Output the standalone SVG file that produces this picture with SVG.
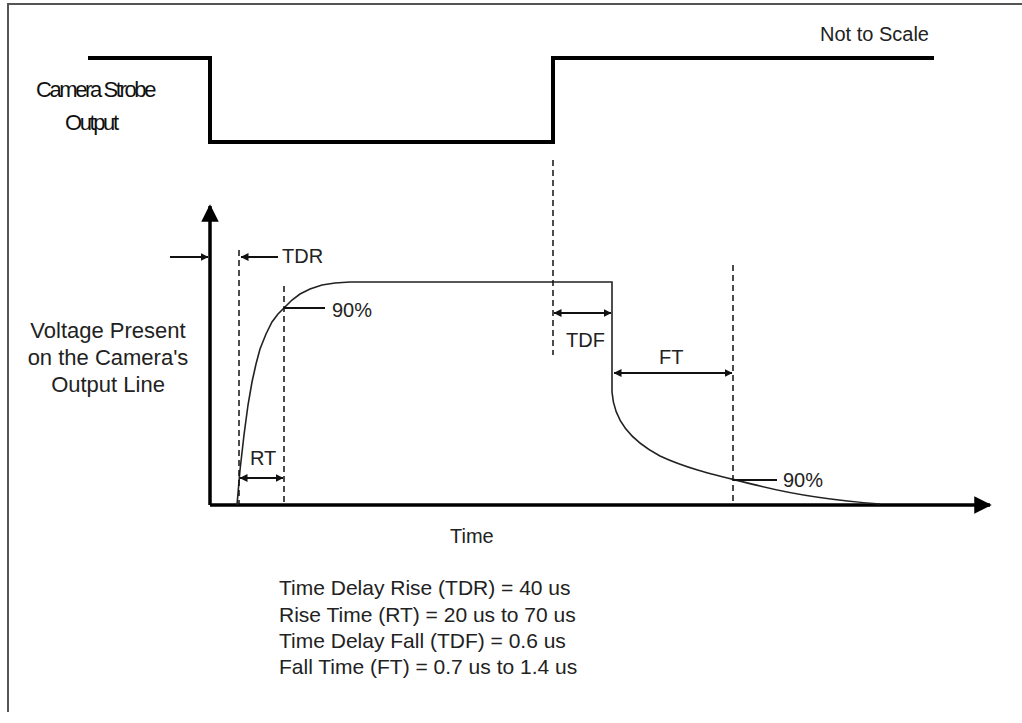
<svg xmlns="http://www.w3.org/2000/svg" width="1022" height="723" viewBox="0 0 1022 723">
<style>
text{font-family:"Liberation Sans",Arial,sans-serif;fill:#222}
.strobe{font-size:22px;letter-spacing:-2.4px;fill:#111}
.lbl{font-size:20px}
.ylab{font-size:22px}
.note{font-size:21px}
.dash{stroke:#111;stroke-width:1.5;stroke-dasharray:6 4;fill:none}
.thin{stroke:#222;stroke-width:1.6;fill:none}
.dim{stroke:#111;stroke-width:2;fill:none;marker-start:url(#ah);marker-end:url(#ah)}
.one{stroke:#111;stroke-width:2;fill:none;marker-end:url(#ah)}
.axis{stroke:#000;stroke-width:3.5;fill:none}
</style>
<defs>
<marker id="ah" viewBox="0 0 8 8" refX="7.5" refY="4" markerWidth="4" markerHeight="4" orient="auto-start-reverse"><path d="M0,0 L8,4 L0,8 z" fill="#111"/></marker>
<marker id="big" viewBox="0 0 10 10" refX="9" refY="5" markerWidth="5" markerHeight="5" orient="auto"><path d="M0,0 L10,5 L0,10 z" fill="#000"/></marker>
</defs>
<rect width="1022" height="723" fill="#fff"/>
<g id="frame"><path d="M8,712 V4 H1022" stroke="#555" stroke-width="2" fill="none"/></g>
<g id="strobe-signal">
<path d="M88,58 H210 V142 H553 V58 H934" stroke="#000" stroke-width="4" fill="none"/>
<text class="strobe" x="36" y="97">Camera Strobe</text>
<text class="strobe" x="65" y="130">Output</text>
</g>
<g id="not-to-scale"><text class="lbl" x="820" y="41" fill="#333">Not to Scale</text></g>
<g id="axes">
<line x1="210" y1="505" x2="210" y2="206" class="axis" marker-end="url(#big)"/>
<line x1="210" y1="505" x2="990" y2="505" class="axis" marker-end="url(#big)"/>
</g>
<g id="y-label">
<text class="ylab" x="108" y="338" text-anchor="middle">Voltage Present</text>
<text class="ylab" x="108" y="365" text-anchor="middle">on the Camera's</text>
<text class="ylab" x="108" y="392" text-anchor="middle">Output Line</text>
</g>
<g id="x-label"><text class="lbl" x="450" y="543" font-size="21">Time</text></g>
<g id="waveform">
<polyline class="thin" points="237,505 240,470 244,435 248,405 252,382 256,364 260,349 266,334 272,322 278,314 284,308 292,300 300,294 310,289 322,285 335,283 350,282 612,282 612,392"/>
<path class="thin" d="M612,392 C614,420 630,440 660,456 C690,470 720,476 760,486 C800,496 840,501 880,504"/>
</g>
<g id="connectors">
<line class="dash" x1="239" y1="250" x2="239" y2="505"/>
<line class="dash" x1="284" y1="286" x2="284" y2="505"/>
<line class="dash" x1="553" y1="160" x2="553" y2="355"/>
<line class="dash" x1="733" y1="265" x2="733" y2="505"/>
<line class="one" x1="170" y1="257" x2="208" y2="257"/>
<line class="one" x1="278" y1="257" x2="241" y2="257"/>
<line class="dim" x1="240" y1="478" x2="283" y2="478"/>
<line class="dim" x1="554" y1="313" x2="611" y2="313"/>
<line class="dim" x1="614" y1="373" x2="732" y2="373"/>
<line stroke="#111" stroke-width="2" x1="284" y1="308" x2="325" y2="308"/>
<line stroke="#111" stroke-width="2" x1="733" y1="480" x2="777" y2="480"/>
</g>
<g id="labels">
<text class="lbl" x="282" y="263">TDR</text>
<text class="lbl" x="332" y="317">90%</text>
<text class="lbl" x="566" y="347" fill="#444">TDF</text>
<text class="lbl" x="659" y="364" fill="#444">FT</text>
<text class="lbl" x="250" y="465">RT</text>
<text class="lbl" x="783" y="487">90%</text>
</g>
<g id="notes">
<text class="note" x="279" y="595">Time Delay Rise (TDR) = 40 us</text>
<text class="note" x="279" y="622">Rise Time (RT) = 20 us to 70 us</text>
<text class="note" x="279" y="648">Time Delay Fall (TDF) = 0.6 us</text>
<text class="note" x="279" y="674">Fall Time (FT) = 0.7 us to 1.4 us</text>
</g>
</svg>
